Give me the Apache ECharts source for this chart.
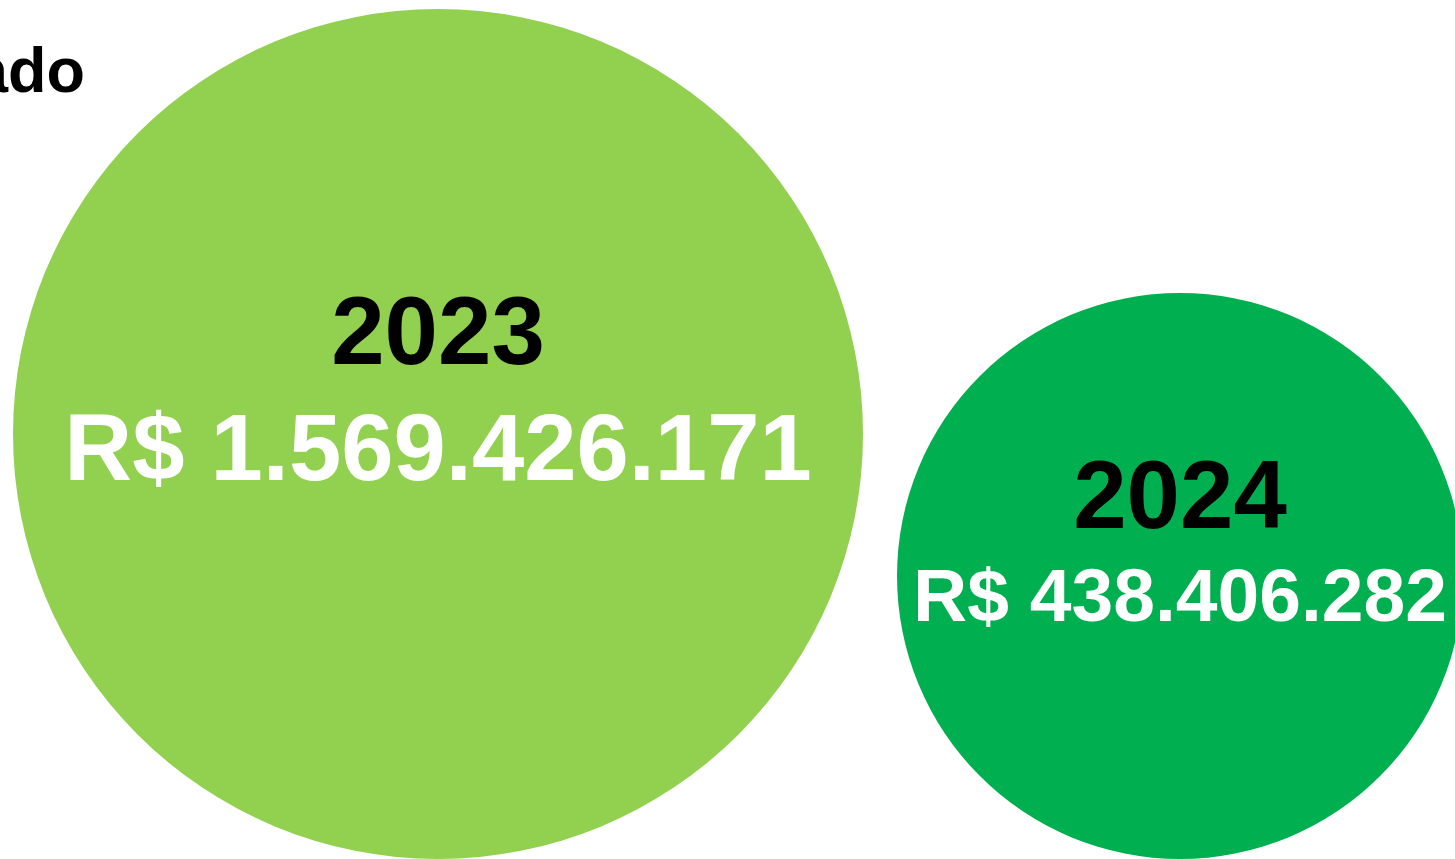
<!DOCTYPE html>
<html>
<head>
<meta charset="utf-8">
<style>
  html, body { margin: 0; padding: 0; background: #fff; }
  #main { width: 1455px; height: 859px; }
</style>
<script src="https://cdn.jsdelivr.net/npm/echarts@6/dist/echarts.min.js"></script>
</head>
<body>
<div id="main"></div>
<script type="text/javascript">
    // dados
    var anos = ['2023', '2024'];
    var valores = [1569426171, 438406282];
    var cores = ['#92D050', '#00B050'];
    var titulo = 'Arrecadado';

    // tamanho do circulo (diametro) de cada ano
    var diametros = [850, 566];

    function formataReal(v) {
        return 'R$ ' + String(v).replace(/\B(?=(\d{3})+(?!\d))/g, '.');
    }

    var fonte = '"Liberation Sans", Arial, sans-serif';
    var myChart = echarts.init(document.getElementById('main'));
    var option = {
        animation: false,
        grid: {
            left: 438,
            right: 275,
            top: 0,
            bottom: 0
        },
        xAxis: {
            type: 'category',
            boundaryGap: false,
            data: anos,
            show: false
        },
        yAxis: {
            type: 'value',
            min: 0,
            max: 1,
            show: false
        },
        graphic: [{
            type: 'text',
            x: 85,
            y: 106,
            style: {
                text: titulo,
                fill: '#000',
                font: 'bold 63px ' + fonte,
                textAlign: 'right',
                verticalAlign: 'bottom'
            }
        }],
        series: [{
            type: 'scatter',
            clip: false,
            data: anos.map(function (a, i) {
                var d = diametros[i];
                return {
                    value: [a, 0],
                    symbolSize: d,
                    symbolOffset: [0, -d / 2],
                    itemStyle: { color: cores[i], opacity: 1 },
                    label: {
                        show: true,
                        position: 'inside',
                        offset: i === 0 ? [0, -37] : [0, -27],
                        formatter: i === 0
                            ? '{ano|' + a + '}\n{v1|' + formataReal(valores[i]) + '}'
                            : '{ano2|' + a + '}\n{v2|' + formataReal(valores[i]) + '}'
                    }
                };
            }),
            label: {
                fontFamily: fonte,
                fontWeight: 'bold',
                rich: {
                    ano: { fontSize: 96, fontWeight: 'bold', color: '#000', lineHeight: 114, fontFamily: fonte },
                    v1: { fontSize: 94, fontWeight: 'bold', color: '#fff', lineHeight: 118, fontFamily: fonte },
                    ano2: { fontSize: 96, fontWeight: 'bold', color: '#000', lineHeight: 102, fontFamily: fonte },
                    v2: { fontSize: 75, fontWeight: 'bold', color: '#fff', lineHeight: 94, fontFamily: fonte }
                }
            }
        }]
    };
    myChart.setOption(option);
</script>
</body>
</html>
